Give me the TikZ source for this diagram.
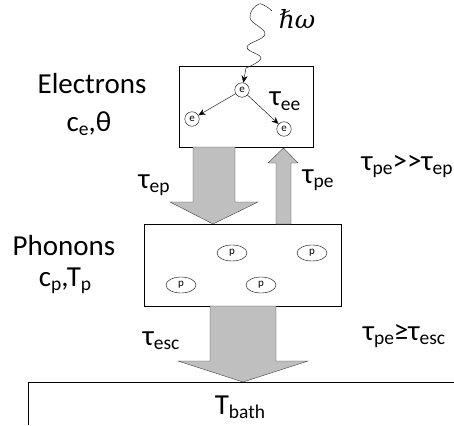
\documentclass[tikz,border=0pt]{standalone}
\usepackage{fontspec}
\setmainfont{Carlito}
\newfontfamily\hwfont{DejaVu Serif}
\usetikzlibrary{arrows.meta,shapes.geometric}
\newcommand{\lo}[1]{\raisebox{-0.14em}{\fontsize{19.5}{19.5}\selectfont #1}}
\tikzset{
  box/.style={draw,thin,fill=white,inner sep=0pt},
  lbl/.style={anchor=base,inner sep=0pt,font=\fontsize{29}{31}\selectfont},
  ecirc/.style={circle,draw,thin,fill=white,inner sep=0pt,minimum size=14.5pt,font=\fontsize{11}{11}\selectfont},
  pell/.style={ellipse,draw,thin,fill=white,inner sep=0pt,minimum width=30pt,minimum height=16pt,font=\fontsize{11}{11}\selectfont},
  fat/.style={draw=black!75,thin,fill=black!25,line join=miter},
  hop/.style={-{Stealth[length=7pt,width=6pt]},thin}
}
\begin{document}
\begin{tikzpicture}[x=1pt,y=-1pt]
\useasboundingbox (0,0) rectangle (454,425);
% reservoirs
\node[box,minimum width=134pt,minimum height=81pt] (elec) at (246,106.5) {};
\node[box,minimum width=197pt,minimum height=82pt] (phon) at (242.5,265) {};
% bath
\draw[thin] (28,425) -- (28,382) -- (454,382);
\node[lbl] (Tb) at (240,414) {T\lo{bath}};
% electrons
\node[ecirc] (e0) at (242,90) {e};
\node[ecirc] (e1) at (192,119) {e};
\node[ecirc] (e2) at (284,129) {e};
\draw[hop] (e0) -- (e1);
\draw[hop] (e0) -- (e2);
\coordinate (ph) at (272,11);
\draw[hop] plot[smooth,tension=0.7] coordinates {(ph) (259,4) (250,18) (265,34) (247,47) (261,58) (246,68)} -- (e0);
\node[lbl,font=\hwfont\itshape\fontsize{25}{27}\selectfont] (hw) at (297,29) {ℏω};
\node[lbl] (tee) at (285,106) {τ\lo{ee}};
% phonons
\node[pell] (p1) at (232,253) {p};
\node[pell] (p2) at (312,253) {p};
\node[pell] (p3) at (181,285) {p};
\node[pell] (p4) at (261,285) {p};
% fat arrows
\draw[fat] (193,147) -- (235,147) -- (235,202) -- (258,202) -- (213,224)
  -- (170,202) -- (193,202) -- cycle;
\draw[fat] (276,224) -- (276,163) -- (268,163) -- (283.5,148) -- (298,163)
  -- (291,163) -- (291,224) -- cycle;
\draw[fat] (210,306) -- (276,306) -- (276,361) -- (308,361) -- (243,382)
  -- (178,361) -- (210,361) -- cycle;
% labels
\node[lbl] (el) at (92,93) {Electrons};
\node[lbl] (ce) at (89,131) {c\lo{e},θ};
\node[lbl] (pn) at (64,255) {Phonons};
\node[lbl] (cp) at (65,286) {c\lo{p},T\lo{p}};
\node[lbl] (tep) at (154,188) {τ\lo{ep}};
\node[lbl] (tpe) at (318,183) {τ\lo{pe}};
\node[lbl] (r1) at (407,170) {τ\lo{pe}>{}>τ\lo{ep}};
\node[lbl] (tesc) at (161,345) {τ\lo{esc}};
\node[lbl] (r2) at (404,340) {τ\lo{pe}≥τ\lo{esc}};
\end{tikzpicture}
\end{document}
